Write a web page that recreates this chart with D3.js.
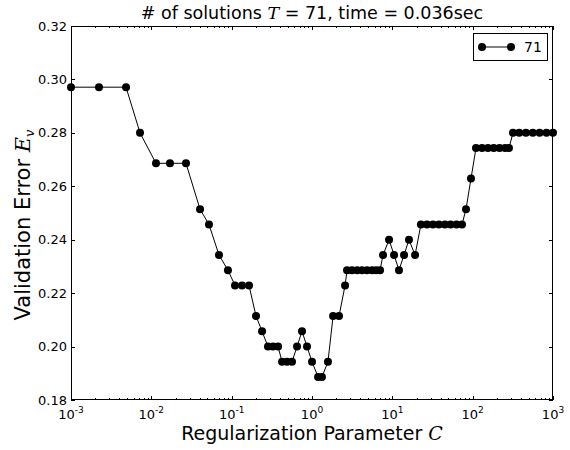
<!DOCTYPE html>
<html>
<head>
<meta charset="utf-8">
<script src="https://cdn.jsdelivr.net/npm/d3@7"></script>
<style>
  body { margin: 0; background: #fff; }
  svg { display: block; }
</style>
</head>
<body>
<div id="chart"></div>
<script>
// regularization parameter C at each solution
const cValues = [
  0.001, 0.00223, 0.00484, 0.00723, 0.01143, 0.01706, 0.0270, 0.0404, 0.0522, 0.0695,
  0.0899, 0.110, 0.1346, 0.1644, 0.201, 0.239, 0.283, 0.327, 0.378, 0.424,
  0.489, 0.564, 0.651, 0.751, 0.867, 1.0, 1.19, 1.33, 1.58, 1.83,
  2.17, 2.58, 2.73, 3.15, 3.65, 4.2, 4.85, 5.6, 6.3, 7.03,
  7.66, 9.10, 10.5, 12.1, 14.0, 16.1, 19.2, 22.7, 27.0, 32.0,
  38.0, 45.0, 53.0, 63.0, 73.7, 82.6, 95.3, 110, 131, 155,
  183, 216, 253, 283, 318, 380, 460, 560, 680, 830,
  1000
];
// validation error at each solution
const errValues = [
  0.2971, 0.2971, 0.2971, 0.2800, 0.2686, 0.2686, 0.2686, 0.2514, 0.2457, 0.2343,
  0.2286, 0.2229, 0.2229, 0.2229, 0.2114, 0.2057, 0.2000, 0.2000, 0.2000, 0.1943,
  0.1943, 0.1943, 0.2000, 0.2057, 0.2000, 0.1943, 0.1886, 0.1886, 0.1943, 0.2114,
  0.2114, 0.2229, 0.2286, 0.2286, 0.2286, 0.2286, 0.2286, 0.2286, 0.2286, 0.2286,
  0.2343, 0.2400, 0.2343, 0.2286, 0.2343, 0.2400, 0.2343, 0.2457, 0.2457, 0.2457,
  0.2457, 0.2457, 0.2457, 0.2457, 0.2457, 0.2514, 0.2629, 0.2743, 0.2743, 0.2743,
  0.2743, 0.2743, 0.2743, 0.2743, 0.2800, 0.2800, 0.2800, 0.2800, 0.2800, 0.2800,
  0.2800
];
const yTicks = [0.18, 0.20, 0.22, 0.24, 0.26, 0.28, 0.30, 0.32];
const xExponents = [-3, -2, -1, 0, 1, 2, 3];
const legendLabel = '71';

const width = 570;
const height = 450;
const margin = { top: 26, right: 17, bottom: 50, left: 71 };
const font = 'DejaVu Sans, sans-serif';

const data = cValues.map((c, i) => ({ c, e: errValues[i] }));

const x = d3.scaleLog()
  .domain([1e-3, 1e3])
  .range([margin.left, width - margin.right]);

const y = d3.scaleLinear()
  .domain([0.18, 0.32])
  .range([height - margin.bottom, margin.top]);

const svg = d3.select('#chart')
  .append('svg')
  .attr('width', width)
  .attr('height', height);

// minor log ticks
const minor = [];
xExponents.slice(0, -1).forEach((p) => {
  for (let k = 2; k <= 9; k += 1) minor.push(k * 10 ** p);
});
const majorX = xExponents.map((p) => 10 ** p);

const x0 = margin.left;
const x1 = width - margin.right;
const y0 = height - margin.bottom;
const y1 = margin.top;

const ticks = svg.append('g').attr('stroke', '#000').attr('stroke-width', 1);
// x ticks, inside, bottom and top
minor.forEach((v) => {
  const px = Math.round(x(v)) + 0.5;
  ticks.append('line').attr('x1', px).attr('x2', px).attr('y1', y0).attr('y2', y0 - 2);
  ticks.append('line').attr('x1', px).attr('x2', px).attr('y1', y1).attr('y2', y1 + 2);
});
majorX.forEach((v) => {
  const px = Math.round(x(v)) + 0.5;
  ticks.append('line').attr('x1', px).attr('x2', px).attr('y1', y0).attr('y2', y0 - 4);
  ticks.append('line').attr('x1', px).attr('x2', px).attr('y1', y1).attr('y2', y1 + 4);
});
// y ticks, inside, left and right
yTicks.forEach((v) => {
  const py = Math.round(y(v)) + 0.5;
  ticks.append('line').attr('x1', x0).attr('x2', x0 + 4).attr('y1', py).attr('y2', py);
  ticks.append('line').attr('x1', x1).attr('x2', x1 - 4).attr('y1', py).attr('y2', py);
});

// y tick labels
svg.append('g')
  .attr('font-family', font)
  .attr('font-size', 13)
  .attr('text-anchor', 'end')
  .selectAll('text')
  .data(yTicks)
  .join('text')
  .attr('x', x0 - 4)
  .attr('y', (d) => y(d) + 4.5)
  .text((d) => d.toFixed(2));

// x tick labels 10^p
const xl = svg.append('g')
  .attr('font-family', font)
  .selectAll('text')
  .data(xExponents)
  .join('text')
  .attr('x', (d) => x(10 ** d))
  .attr('y', y0 + 19)
  .attr('text-anchor', 'middle')
  .attr('font-size', 13);
xl.append('tspan').text('10');
xl.append('tspan')
  .attr('font-size', 9)
  .attr('dy', -6)
  .text((d) => (d < 0 ? `-${-d}` : `${d}`));

// line and markers
const line = d3.line()
  .x((d) => x(d.c))
  .y((d) => y(d.e));

const plot = svg.append('g');
plot.append('path')
  .datum(data)
  .attr('fill', 'none')
  .attr('stroke', '#000')
  .attr('stroke-width', 1)
  .attr('d', line);

plot.selectAll('circle')
  .data(data)
  .join('circle')
  .attr('cx', (d) => x(d.c))
  .attr('cy', (d) => y(d.e))
  .attr('r', 4)
  .attr('fill', '#000');

// frame
svg.append('rect')
  .attr('x', x0 + 0.5)
  .attr('y', y1 + 0.5)
  .attr('width', x1 - x0 - 1)
  .attr('height', y0 - y1 - 1)
  .attr('fill', 'none')
  .attr('stroke', '#000')
  .attr('stroke-width', 1);

// legend
const lg = svg.append('g');
lg.append('rect')
  .attr('x', 473.5).attr('y', 33.5)
  .attr('width', 74).attr('height', 27)
  .attr('fill', '#fff')
  .attr('stroke', '#000');
lg.append('line')
  .attr('x1', 482).attr('x2', 511).attr('y1', 47).attr('y2', 47)
  .attr('stroke', '#000');
[482, 511].forEach((cx) => {
  lg.append('circle').attr('cx', cx).attr('cy', 47).attr('r', 4).attr('fill', '#000');
});
lg.append('text')
  .attr('x', 524).attr('y', 52)
  .attr('font-family', font)
  .attr('font-size', 14)
  .text(legendLabel);

// title
const title = svg.append('text')
  .attr('x', (x0 + x1) / 2)
  .attr('y', 19)
  .attr('text-anchor', 'middle')
  .attr('font-family', font)
  .attr('font-size', 17.5);
title.append('tspan').text('# of solutions ');
title.append('tspan')
  .attr('font-family', 'DejaVu Serif, serif')
  .attr('font-style', 'italic')
  .text('T');
title.append('tspan').text(' = 71, time = 0.036sec');

// x label
const xlab = svg.append('text')
  .attr('x', (x0 + x1) / 2)
  .attr('y', 440)
  .attr('text-anchor', 'middle')
  .attr('font-family', font)
  .attr('font-size', 19);
xlab.append('tspan').text('Regularization Parameter ');
xlab.append('tspan')
  .attr('font-family', 'DejaVu Serif, serif')
  .attr('font-style', 'italic')
  .text('C');

// y label
const ylab = svg.append('text')
  .attr('transform', `translate(30,${(y0 + y1) / 2 + 12}) rotate(-90)`)
  .attr('text-anchor', 'middle')
  .attr('font-family', font)
  .attr('font-size', 21);
ylab.append('tspan').text('Validation Error ');
ylab.append('tspan')
  .attr('font-family', 'DejaVu Serif, serif')
  .attr('font-style', 'italic')
  .text('E');
ylab.append('tspan')
  .attr('font-family', 'DejaVu Serif, serif')
  .attr('font-style', 'italic')
  .attr('font-size', 13)
  .attr('dy', 4)
  .text('v');
</script>
</body>
</html>
